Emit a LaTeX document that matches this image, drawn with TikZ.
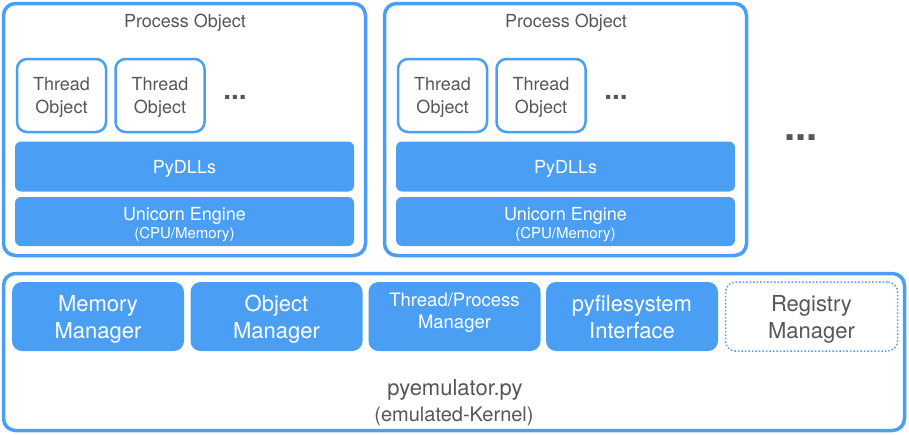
\documentclass[tikz,border=0pt]{standalone}
\usepackage{fontspec}
\setmainfont{TeX Gyre Heros}
\definecolor{boxblue}{HTML}{4A9FF5}
\definecolor{txtgray}{HTML}{575757}
\tikzset{
  frame/.style={draw=boxblue,line width=3.5pt,rounded corners=12pt,fill=white},
  threadbox/.style={draw=boxblue,line width=2.5pt,rounded corners=10pt,fill=white,text depth=0pt,
    minimum width=89pt,minimum height=73pt,align=center,text=txtgray,font=\fontsize{18}{22.5}\selectfont},
  layer/.style={fill=boxblue,rounded corners=6pt,minimum width=339pt,align=center,text=white,inner sep=0pt,text depth=0pt},
  manager/.style={fill=boxblue,rounded corners=10pt,minimum width=172pt,minimum height=69pt,text depth=0pt,
    align=center,text=white,font=\fontsize{22}{27}\selectfont},
  title/.style={text=txtgray,font=\fontsize{18}{22}\selectfont,inner sep=0pt,text depth=0pt},
  dots/.style={text=txtgray,font=\bfseries\fontsize{28}{30}\selectfont,inner sep=0pt,anchor=base}
}
\begin{document}
\begin{tikzpicture}[x=1pt,y=-1pt]
 \useasboundingbox (0,0) rectangle (909,434);

 % process objects
 \foreach \name/\x in {pa/0,pb/381}{
 \begin{scope}[xshift=\x]
  \node[frame,minimum width=362pt,minimum height=252pt] (\name) at (184.5,129.5) {};
  \node[title] (\name-title) at (185,20.5) {Process Object};
  \node[threadbox] (\name-ta) at (61.5,95.5) {Thread\\Object};
  \node[threadbox] (\name-tb) at (160,95.5) {Thread\\Object};
  \node[dots] (\name-dots) at (235,99.5) {...};
  \node[layer,minimum height=50pt,font=\fontsize{18}{20}\selectfont] (\name-dll) at (184.5,166.5) {PyDLLs};
  \node[layer,minimum height=49pt] (\name-uc) at (184.5,221.5) {};
  \node[text=white,font=\fontsize{18}{20}\selectfont,inner sep=0pt,text depth=0pt] (\name-uca) at (184.5,214) {Unicorn Engine};
  \node[text=white,font=\fontsize{15}{17}\selectfont,inner sep=0pt,text depth=0pt] (\name-ucb) at (184.5,233) {(CPU/Memory)};
 \end{scope}
 }
 \node[dots,font=\bfseries\fontsize{40}{42}\selectfont] (more) at (801,140) {...};

 % kernel
 \node[frame,minimum width=901pt,minimum height=157pt] (kernel) at (454,352) {};
 \node[manager] (mem) at (98,316.5) {Memory\\Manager};
 \node[manager] (obj) at (276.5,316.5) {Object\\Manager};
 \node[manager] (thr) at (454.5,316.5) {};
 \node[text=white,align=center,inner sep=0pt,text depth=0pt,font=\fontsize{18.5}{22}\selectfont] (thr-text) at (454.5,310.5) {Thread/Process\\Manager};
 \node[manager] (pyfs) at (632,316.5) {pyfilesystem\\Interface};
 \node[manager,fill=white,draw=boxblue,line width=1.5pt,dotted,text=txtgray] (reg) at (811.5,316.5) {Registry\\Manager};
 \node[title,font=\fontsize{22}{24}\selectfont,anchor=base] (emu) at (455,395) {pyemulator.py};
 \node[title,font=\fontsize{20}{22}\selectfont,anchor=base] (emub) at (454,421.5) {(emulated-Kernel)};
\end{tikzpicture}
\end{document}
